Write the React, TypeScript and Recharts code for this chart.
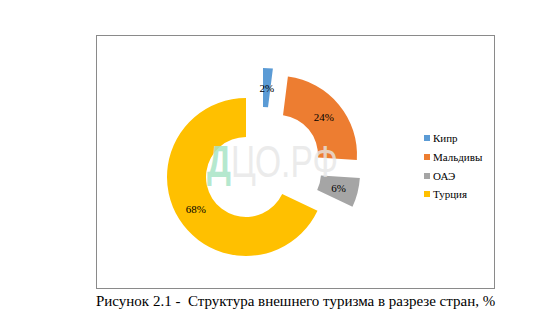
import React from "react";
import { PieChart, Pie, Cell, Legend } from "recharts";

const categories = ["Кипр", "Мальдивы", "ОАЭ", "Турция"];
const values = [2, 24, 6, 68];
const colors = ["#5B9BD5", "#ED7D31", "#A5A5A5", "#FFC000"];
// explosion offsets (px) per slice
const offsets = [
  [17, -30],
  [32, -22],
  [35, -4],
  [0, 0],
];
const captionText = "Рисунок 2.1 -  Структура внешнего туризма в разрезе стран, %";

const data = categories.map((name, i) => ({ name, value: values[i] }));

const CX = 241;
const CY = 172;
const RAD = Math.PI / 180;
const SERIF = "'Liberation Serif', 'Times New Roman', serif";

const makeLabel = (target: number) => (props: any) => {
  const { cx, cy, midAngle, innerRadius, outerRadius, index, value } = props;
  if (index !== target) return <g />;
  const r = (innerRadius + outerRadius) / 2;
  const x = cx + r * Math.cos(-midAngle * RAD);
  const y = cy + r * Math.sin(-midAngle * RAD);
  return (
    <text
      x={x}
      y={y}
      textAnchor="middle"
      dominantBaseline="central"
      fill="#000"
      style={{ fontFamily: SERIF, fontSize: 11 }}
    >
      {value}%
    </text>
  );
};

const LegendContent = () => (
  <div style={{ fontFamily: SERIF, fontSize: 11, color: "#000" }}>
    {categories.map((c, i) => (
      <div key={c} style={{ display: "flex", alignItems: "center", height: 18.7, fontFamily: SERIF }}>
        <span style={{ display: "inline-block", width: 6, height: 6, background: colors[i], marginRight: 3 }} />
        <span style={{ fontFamily: SERIF }}>{c}</span>
      </div>
    ))}
  </div>
);

export default function App() {
  return (
    <div style={{ position: "absolute", left: 0, top: 0, width: 546, height: 320, background: "#fff" }}>
      <div
        style={{
          position: "absolute",
          left: 96,
          top: 35,
          width: 397,
          height: 252,
          border: "1px solid #8a8a8a",
        }}
      />
      <div style={{ position: "absolute", left: 0, top: 0 }}>
        <PieChart width={546} height={320}>
          {categories.map((c, i) => (
            <Pie
              key={c}
              data={data}
              dataKey="value"
              nameKey="name"
              cx={CX + offsets[i][0]}
              cy={CY + offsets[i][1]}
              innerRadius={40}
              outerRadius={79}
              startAngle={90}
              endAngle={-270}
              stroke="none"
              isAnimationActive={false}
              labelLine={false}
              label={makeLabel(i)}
              legendType="none"
            >
              {data.map((d, j) => (
                <Cell key={d.name} fill={j === i ? colors[i] : "none"} />
              ))}
            </Pie>
          ))}
          <Legend
            content={<LegendContent />}
            wrapperStyle={{ position: "absolute", left: 424, top: 129, width: 80 }}
          />
        </PieChart>
      </div>
      <svg
        width={546}
        height={320}
        style={{ position: "absolute", left: 0, top: 0, pointerEvents: "none" }}
      >
        <text
          x={207}
          y={177}
          fontFamily="'Liberation Sans', Arial, sans-serif"
          fontSize={45}
          textLength={131}
          lengthAdjust="spacingAndGlyphs"
        >
          <tspan fill="#a8e4c6" fillOpacity={0.85} fontWeight="bold">Д</tspan>
          <tspan fill="#e6e6e6" fillOpacity={0.8}>ЦО.РФ</tspan>
        </text>
      </svg>
      <div
        style={{
          position: "absolute",
          left: 96,
          top: 293,
          fontFamily: SERIF,
          fontSize: 15,
          color: "#000",
          whiteSpace: "pre",
          lineHeight: "17px",
        }}
      >
        {captionText}
      </div>
    </div>
  );
}
